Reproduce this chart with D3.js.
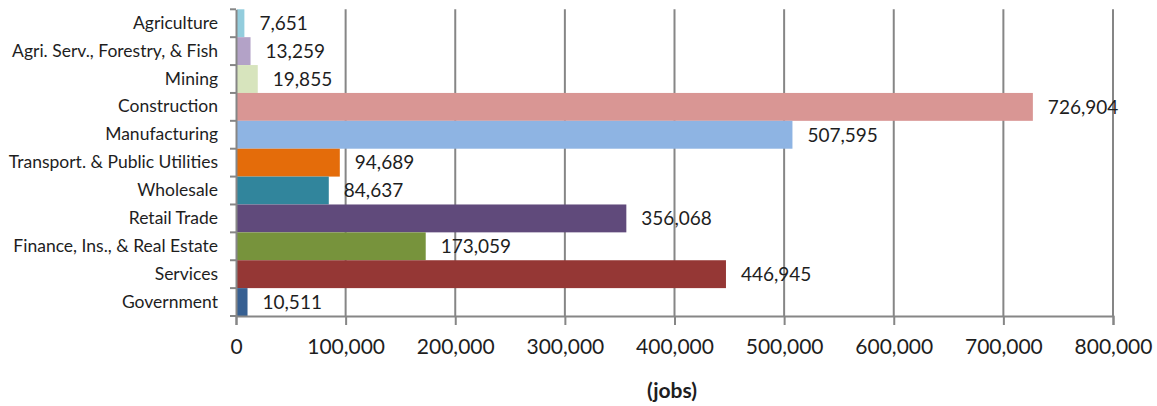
<!DOCTYPE html>
<html><head><meta charset="utf-8">
<script src="https://cdn.jsdelivr.net/npm/d3@7/dist/d3.min.js"></script>
<style>
html,body{margin:0;padding:0;background:#fff;}
svg{display:block;font-family:Lato,"Open Sans",sans-serif;}
</style></head>
<body><svg id="chart" width="1157" height="406"></svg>
<script>
const categories = ["Agriculture","Agri. Serv., Forestry, & Fish","Mining","Construction","Manufacturing","Transport. & Public Utilities","Wholesale","Retail Trade","Finance, Ins., & Real Estate","Services","Government"];
const values = [7651,13259,19855,726904,507595,94689,84637,356068,173059,446945,10511];
const colors = ["#93CDDD","#B3A2C7","#D7E4BD","#D99694","#8EB4E3","#E46C0A","#31859C","#604A7B","#77933C","#953735","#376092"];
const xTicks = [0,100000,200000,300000,400000,500000,600000,700000,800000];
const axisTitle = "(jobs)";

const svg = d3.select("#chart");
const m = {left:236, top:9.3, right:44, bottom:90};
const x = d3.scaleLinear().domain([0,800000]).range([m.left, 1113]);
const y = d3.scaleBand().domain(categories).range([m.top, 316]).padding(0);
const fmt = d3.format(",");
const grid = "#868686";
const ink = "#1e1e1e";

// gridlines
svg.append("g").selectAll("line").data(xTicks.slice(1)).join("line")
  .attr("x1",d=>x(d)).attr("x2",d=>x(d)).attr("y1",m.top).attr("y2",316)
  .attr("stroke",grid).attr("stroke-width",2);

// bars
svg.append("g").selectAll("rect").data(categories).join("rect")
  .attr("x",x(0)+1).attr("y",d=>y(d))
  .attr("width",(d,i)=>x(values[i])-x(0)-1).attr("height",y.bandwidth())
  .attr("fill",(d,i)=>colors[i]);

// x axis
const xa = svg.append("g").attr("transform","translate(0,316)")
  .call(d3.axisBottom(x).tickValues(xTicks).tickFormat(fmt).tickSize(9).tickPadding(14));
xa.select(".domain").attr("stroke",grid).attr("stroke-width",2);
xa.selectAll(".tick line").attr("stroke",grid).attr("stroke-width",2);
xa.selectAll("text").attr("font-size",21).attr("fill",ink).attr("font-family","Lato");

// y axis
const ya = svg.append("g").attr("transform",`translate(${m.left},0)`)
  .call(d3.axisLeft(y).tickSize(0).tickPadding(18));
ya.select(".domain").attr("stroke",grid).attr("stroke-width",2);
ya.selectAll("text").attr("font-size",17.5).attr("fill",ink).attr("font-family","Lato");
// band boundary ticks
const bounds = categories.map(c=>y(c)).concat([y.range()[1]]);
svg.append("g").selectAll("line").data(bounds).join("line")
  .attr("x1",m.left-6).attr("x2",m.left).attr("y1",d=>d).attr("y2",d=>d)
  .attr("stroke",grid).attr("stroke-width",2);

// value labels
svg.append("g").selectAll("text").data(categories).join("text")
  .attr("x",(d,i)=>x(values[i])+15).attr("y",d=>y(d)+y.bandwidth()/2)
  .attr("dy","0.36em").attr("font-size",19).attr("fill",ink)
  .text((d,i)=>fmt(values[i]));

// axis title
svg.append("text").attr("x",672).attr("y",398).attr("text-anchor","middle")
  .attr("font-size",21).attr("font-weight","bold").attr("fill",ink).text(axisTitle);
</script></body></html>
